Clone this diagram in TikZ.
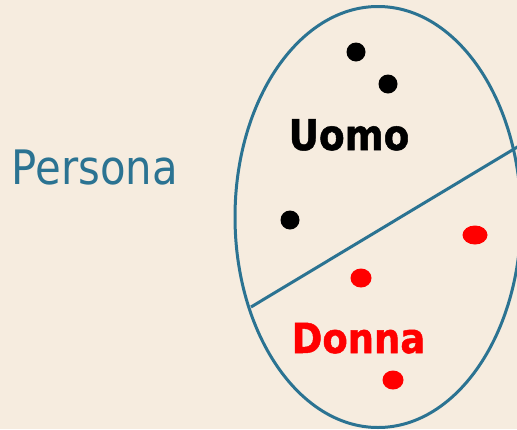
\documentclass[tikz,border=0pt]{standalone}
\usepackage{fontspec}
\usetikzlibrary{shapes.geometric}
\setmainfont{DejaVu Sans}
\newfontfamily\heavyfont[FakeBold=1.2]{DejaVu Sans Bold}
\definecolor{bg}{HTML}{F6ECDF}
\definecolor{teal}{HTML}{2B7392}
\definecolor{rd}{HTML}{FF0000}
\begin{document}
\begin{tikzpicture}[x=1pt,y=-1pt,
  dot/.style={circle,fill=black,inner sep=0,minimum size=19pt},
  rdot/.style={ellipse,fill=rd,inner sep=0,minimum width=#1,minimum height=19pt},
  lbl/.style={inner sep=0,anchor=base}]
\fill[bg] (0,0) rectangle (517,429);
\useasboundingbox (0,0) rectangle (517,429);
\begin{scope}
\clip (0,0) rectangle (517,429);
\node[draw=teal,line width=3pt,ellipse,minimum width=286pt,minimum height=421pt,inner sep=0] (E) at (378,217) {};
\coordinate (L) at (251,307);
\coordinate (R) at (519,146);
\draw[teal,line width=3pt] (L) -- (R);
\end{scope}
\node[dot] (b1) at (356,52) {};
\node[dot] (b2) at (388,84) {};
\node[dot] (b3) at (290,220) {};
\node[rdot=25pt] (r1) at (475,235) {};
\node[rdot=21pt] (r2) at (361,278) {};
\node[rdot=21pt] (r3) at (393,380) {};
\node[lbl,text=teal] (P) at (95,184) {\fontsize{47.5}{50}\selectfont\scalebox{0.88}[1]{Persona}};
\node[lbl] (U) at (349,150) {\fontsize{42.5}{45}\selectfont\heavyfont\scalebox{0.88}[1]{Uomo}};
\node[lbl,text=rd] (D) at (358.5,353) {\fontsize{41.5}{45}\selectfont\heavyfont\scalebox{0.89}[1]{Donna}};
\end{tikzpicture}
\end{document}
